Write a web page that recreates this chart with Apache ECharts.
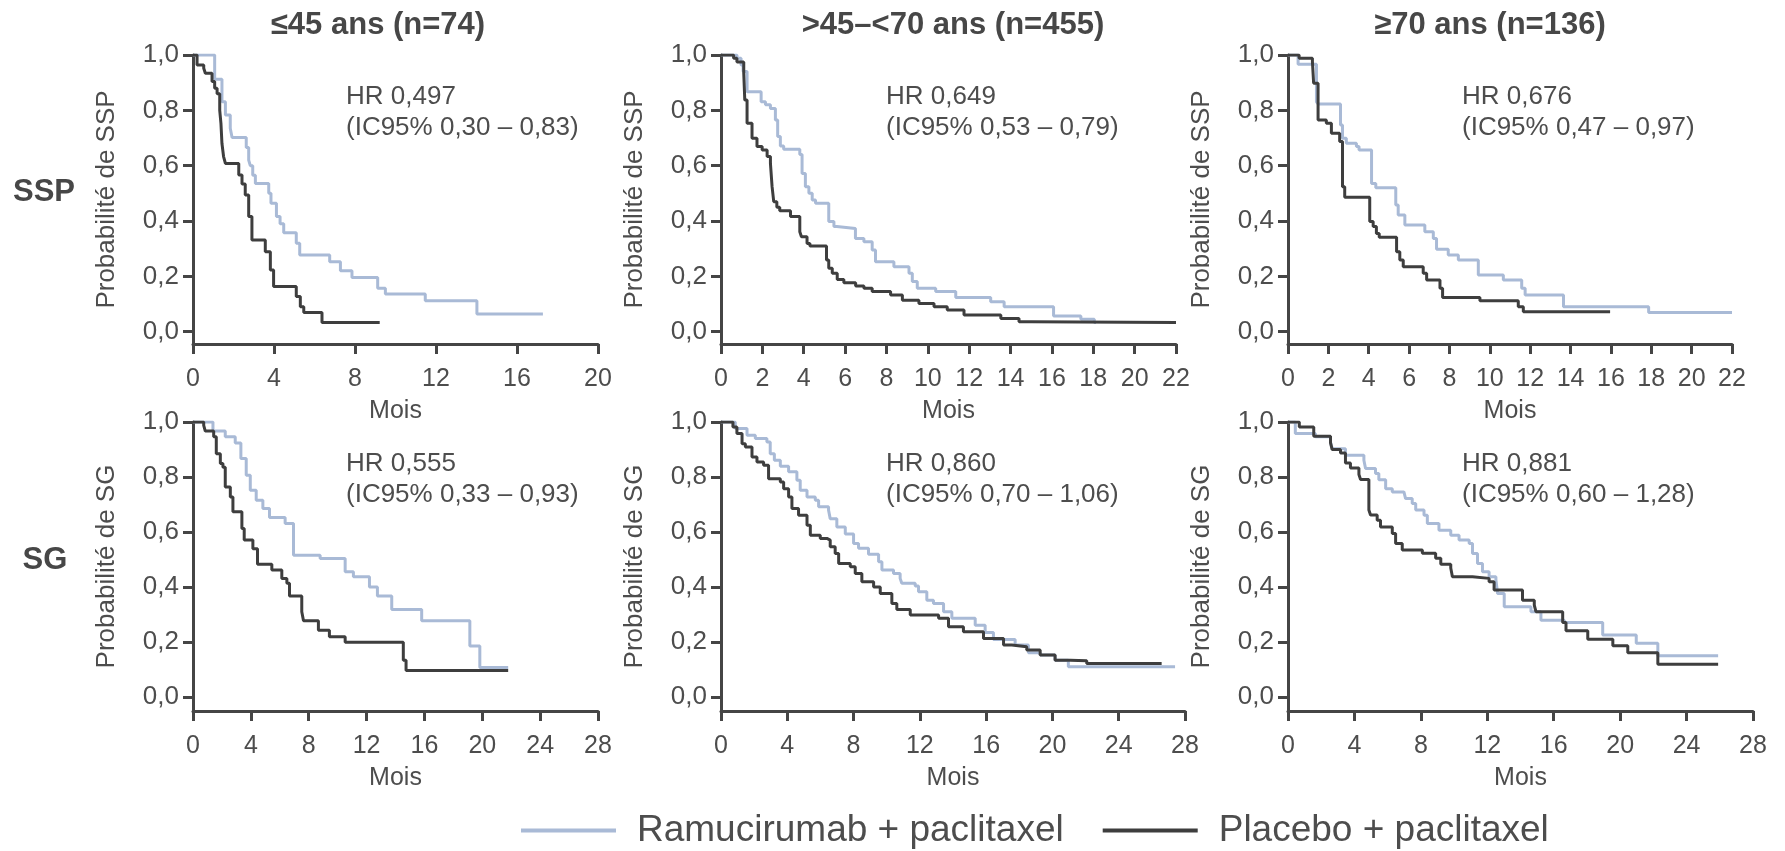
<!DOCTYPE html>
<html>
<head>
<meta charset="utf-8">
<script src="https://cdn.jsdelivr.net/npm/echarts@6/dist/echarts.min.js"></script>
<style>
  html, body { margin: 0; padding: 0; background: #fff; }
  #chart { width: 1785px; height: 851px; }
</style>
</head>
<body>
<div id="chart"></div>
<script>
// Kaplan-Meier curves, [mois, probabilité]
const sspYoungRam = [[0,1],[1.07,0.912],[1.43,0.831],[1.60,0.783],[1.84,0.735],[1.93,0.702],[2.63,0.666],[2.75,0.62],[2.83,0.60],[2.95,0.565],[3.08,0.536],[3.74,0.50],[3.85,0.464],[4.12,0.416],[4.30,0.39],[4.48,0.358],[5.10,0.32],[5.27,0.277],[6.75,0.253],[7.28,0.22],[7.85,0.196],[9.12,0.157],[9.50,0.136],[11.47,0.112],[14.02,0.064],[17.28,0.064]];
const sspYoungPla = [[0,1],[0.2,0.964],[0.53,0.952],[0.61,0.934],[0.94,0.904],[1.07,0.88],[1.19,0.86],[1.32,0.80],[1.38,0.753],[1.43,0.68],[1.51,0.633],[1.60,0.608],[2.26,0.566],[2.42,0.534],[2.58,0.494],[2.75,0.416],[2.91,0.331],[3.57,0.289],[3.82,0.223],[3.98,0.163],[5.10,0.127],[5.30,0.09],[5.47,0.069],[6.37,0.033],[9.22,0.033]];
const sspMidRam = [[0,1],[0.77,0.988],[0.97,0.964],[1.07,0.94],[1.26,0.867],[1.94,0.831],[2.15,0.82],[2.39,0.807],[2.63,0.765],[2.74,0.705],[2.87,0.671],[3.03,0.659],[3.81,0.64],[3.92,0.572],[4.08,0.524],[4.25,0.50],[4.41,0.476],[4.57,0.464],[5.21,0.398],[5.46,0.38],[5.6,0.373],[6.50,0.337],[6.91,0.325],[7.31,0.295],[7.47,0.253],[8.36,0.235],[9.09,0.211],[9.25,0.181],[9.49,0.157],[10.38,0.145],[11.35,0.124],[13.04,0.108],[13.69,0.09],[16.08,0.057],[17.40,0.045],[18.05,0.033],[18.13,0.033]];
const sspMidPla = [[0,1],[0.61,0.988],[0.77,0.975],[1.10,0.934],[1.15,0.837],[1.26,0.753],[1.50,0.699],[1.74,0.669],[1.99,0.657],[2.23,0.633],[2.39,0.608],[2.47,0.524],[2.55,0.47],[2.70,0.45],[2.84,0.437],[3.36,0.416],[3.81,0.361],[3.89,0.343],[4.16,0.319],[4.3,0.31],[5.10,0.259],[5.21,0.229],[5.38,0.211],[5.62,0.189],[5.94,0.177],[6.51,0.165],[6.91,0.157],[7.31,0.145],[8.20,0.133],[8.77,0.114],[9.57,0.102],[10.30,0.09],[10.94,0.078],[11.75,0.06],[13.53,0.048],[14.41,0.036],[15.0,0.033],[22,0.033]];
const sspOldRam = [[0,1],[0.50,0.967],[1.41,0.831],[1.49,0.823],[2.60,0.747],[2.70,0.699],[2.89,0.681],[3.39,0.669],[3.52,0.657],[4.14,0.536],[4.35,0.52],[5.34,0.458],[5.46,0.422],[5.79,0.386],[6.78,0.361],[7.20,0.337],[7.36,0.298],[7.94,0.277],[8.44,0.259],[9.43,0.205],[10.67,0.187],[11.58,0.157],[11.75,0.133],[13.65,0.09],[17.87,0.069],[22,0.069]];
const sspOldPla = [[0,1],[0.55,0.988],[1.21,0.976],[1.27,0.898],[1.49,0.765],[1.90,0.753],[2.15,0.717],[2.56,0.687],[2.70,0.524],[2.81,0.486],[4.05,0.398],[4.22,0.38],[4.38,0.355],[4.52,0.341],[5.38,0.289],[5.54,0.259],[5.71,0.235],[6.70,0.211],[6.87,0.187],[7.53,0.157],[7.66,0.124],[9.51,0.112],[11.41,0.09],[11.66,0.072],[15.96,0.072]];
const sgYoungRam = [[0,1],[1.38,0.967],[2.23,0.946],[2.92,0.924],[3.31,0.867],[3.68,0.807],[3.96,0.752],[4.37,0.716],[4.83,0.686],[5.29,0.653],[6.37,0.631],[6.95,0.516],[8.79,0.504],[10.52,0.456],[11.09,0.438],[12.20,0.401],[12.75,0.368],[13.74,0.319],[15.81,0.278],[19.14,0.186],[19.83,0.108],[21.79,0.108]];
const sgYoungPla = [[0,1],[0.74,0.988],[0.85,0.967],[1.43,0.946],[1.61,0.885],[1.89,0.849],[2.07,0.836],[2.23,0.764],[2.58,0.728],[2.76,0.674],[3.38,0.613],[3.54,0.571],[4.14,0.54],[4.46,0.483],[5.45,0.462],[6.14,0.432],[6.49,0.414],[6.67,0.368],[7.52,0.311],[7.64,0.278],[8.67,0.244],[9.43,0.22],[10.52,0.2],[14.54,0.135],[14.73,0.097],[21.79,0.097]];
const sgMidRam = [[0,1],[0.86,0.976],[1.57,0.952],[2.07,0.94],[2.77,0.927],[2.97,0.885],[3.22,0.861],[3.58,0.839],[4.08,0.819],[4.58,0.788],[4.78,0.752],[5.19,0.728],[5.69,0.716],[5.89,0.692],[6.49,0.68],[6.59,0.649],[6.99,0.619],[7.50,0.593],[8.00,0.559],[8.30,0.541],[8.90,0.52],[9.51,0.492],[9.71,0.462],[10.41,0.45],[10.81,0.432],[10.91,0.414],[11.72,0.404],[11.92,0.383],[12.42,0.353],[12.82,0.341],[13.43,0.311],[13.93,0.287],[15.34,0.262],[15.94,0.235],[16.44,0.21],[17.75,0.19],[18.55,0.162],[19.26,0.154],[20.16,0.135],[20.96,0.111],[27.40,0.111]];
const sgMidPla = [[0,1],[0.72,0.982],[0.96,0.958],[1.27,0.921],[1.47,0.909],[1.87,0.873],[2.17,0.855],[2.57,0.843],[2.87,0.794],[3.58,0.782],[3.78,0.758],[4.08,0.728],[4.28,0.686],[4.68,0.661],[5.19,0.625],[5.39,0.589],[5.99,0.577],[6.39,0.571],[6.59,0.547],[6.89,0.522],[7.10,0.486],[7.80,0.474],[8.10,0.45],[8.50,0.42],[9.21,0.401],[9.61,0.377],[10.31,0.341],[10.61,0.319],[11.42,0.299],[13.13,0.287],[13.73,0.256],[14.63,0.238],[15.84,0.214],[17.05,0.19],[17.55,0.184],[18.45,0.172],[19.26,0.154],[20.16,0.135],[21.07,0.133],[22.07,0.123],[26.59,0.123]];
const sgOldRam = [[0,1],[0.44,0.958],[1.65,0.946],[2.56,0.927],[2.66,0.903],[3.46,0.879],[4.57,0.861],[4.67,0.831],[5.27,0.813],[5.47,0.79],[5.88,0.758],[6.28,0.746],[6.98,0.74],[7.08,0.722],[7.48,0.704],[7.69,0.68],[8.19,0.661],[8.39,0.631],[9.09,0.607],[9.80,0.589],[10.30,0.571],[10.91,0.559],[11.11,0.522],[11.41,0.486],[11.71,0.456],[12.11,0.438],[12.52,0.426],[12.62,0.377],[13.02,0.329],[14.63,0.311],[15.23,0.28],[16.64,0.272],[18.95,0.226],[20.97,0.196],[22.27,0.151],[25.90,0.151]];
const sgOldPla = [[0,1],[0.68,0.982],[1.55,0.948],[2.56,0.924],[2.66,0.9],[3.16,0.887],[3.46,0.851],[3.76,0.833],[4.27,0.809],[4.37,0.791],[4.87,0.68],[4.97,0.662],[5.37,0.643],[5.57,0.619],[6.28,0.595],[6.48,0.559],[6.88,0.535],[8.09,0.523],[8.89,0.505],[9.20,0.483],[9.80,0.47],[9.90,0.438],[11.11,0.432],[12.11,0.42],[12.41,0.39],[14.12,0.353],[14.83,0.335],[14.93,0.311],[16.54,0.272],[16.74,0.242],[18.05,0.211],[19.56,0.187],[20.46,0.162],[22.27,0.12],[25.90,0.12]];

const ageGroups = ['≤45 ans (n=74)', '>45–<70 ans (n=455)', '≥70 ans (n=136)'];
const endpoints = ['SSP', 'SG'];
const hrLabels = [
  'HR 0,497\n(IC95% 0,30 – 0,83)', 'HR 0,649\n(IC95% 0,53 – 0,79)', 'HR 0,676\n(IC95% 0,47 – 0,97)',
  'HR 0,555\n(IC95% 0,33 – 0,93)', 'HR 0,860\n(IC95% 0,70 – 1,06)', 'HR 0,881\n(IC95% 0,60 – 1,28)'
];
const xMax = [20, 22, 22, 28, 28, 28];
const xStep = [4, 2, 2, 4, 4, 4];
const yTicks = [0, 0.2, 0.4, 0.6, 0.8, 1.0];
const armNames = ['Ramucirumab + paclitaxel', 'Placebo + paclitaxel'];
const ramCurves = [sspYoungRam, sspMidRam, sspOldRam, sgYoungRam, sgMidRam, sgOldRam];
const plaCurves = [sspYoungPla, sspMidPla, sspOldPla, sgYoungPla, sgMidPla, sgOldPla];

// layout
const boxes = [
  { left: 193, top: 55, width: 405, height: 289, ymin: -0.0445 },
  { left: 721, top: 55, width: 455, height: 289, ymin: -0.0445 },
  { left: 1288, top: 55, width: 444, height: 289, ymin: -0.0445 },
  { left: 193, top: 422, width: 405, height: 289, ymin: -0.0497 },
  { left: 721, top: 422, width: 464, height: 289, ymin: -0.0497 },
  { left: 1288, top: 422, width: 465, height: 289, ymin: -0.0497 }
];
const FONT = '"Liberation Sans", Arial, sans-serif';
const TXT = '#4d4d4d';
const AX = '#454545';
const LIGHT = '#a9bad6';
const DARK = '#3e3e3e';
const titleX = [378, 953, 1490];
const hrX = [346, 886, 1462];

const grids = [], xAxes = [], yAxes = [], series = [], graphics = [];
boxes.forEach((b, i) => {
  grids.push({ left: b.left, top: b.top, width: b.width, height: b.height });
  const row = Math.floor(i / 3);
  xAxes.push({
    type: 'value', gridIndex: i, min: 0, max: xMax[i], interval: xStep[i],
    name: 'Mois', nameLocation: 'middle', nameGap: 55,
    nameTextStyle: { fontSize: 25, color: TXT, fontFamily: FONT },
    axisLine: { onZero: false, lineStyle: { color: AX, width: 3 } },
    axisTick: { length: 10, lineStyle: { color: AX, width: 3 } },
    axisLabel: { fontSize: 25, color: TXT, fontFamily: FONT, margin: 23 },
    splitLine: { show: false }
  });
  yAxes.push({
    type: 'value', gridIndex: i, min: b.ymin, max: 1,
    name: 'Probabilité de ' + endpoints[row], nameLocation: 'middle', nameGap: 73,
    nameTextStyle: { fontSize: 26, color: TXT, fontFamily: FONT },
    axisLine: { show: true, onZero: false, lineStyle: { color: AX, width: 3 } },
    axisTick: { show: true, length: 10, customValues: yTicks, lineStyle: { color: AX, width: 3 } },
    axisLabel: {
      fontSize: 26, color: TXT, fontFamily: FONT, margin: 14, customValues: yTicks,
      formatter: v => v.toFixed(1).replace('.', ',')
    },
    splitLine: { show: false }
  });
  series.push({
    name: armNames[0], type: 'line', xAxisIndex: i, yAxisIndex: i, step: 'end',
    symbol: 'none', data: ramCurves[i], color: LIGHT, lineStyle: { width: 3, color: LIGHT }, z: 2
  });
  series.push({
    name: armNames[1], type: 'line', xAxisIndex: i, yAxisIndex: i, step: 'end',
    symbol: 'none', data: plaCurves[i], color: DARK, lineStyle: { width: 3, color: DARK }, z: 3
  });
  graphics.push({
    type: 'text', x: hrX[i % 3], y: row === 0 ? 81 : 448,
    style: { text: hrLabels[i], font: '26px ' + FONT, fill: TXT, lineHeight: 31, verticalAlign: 'top' }
  });
});

ageGroups.forEach((t, k) => {
  graphics.push({
    type: 'text', x: titleX[k], y: 25,
    style: { text: t, font: 'bold 31px ' + FONT, fill: '#474747', align: 'center', verticalAlign: 'middle' }
  });
});
endpoints.forEach((t, k) => {
  graphics.push({
    type: 'text', x: k === 0 ? 44 : 45, y: k === 0 ? 192 : 560,
    style: { text: t, font: 'bold 31px ' + FONT, fill: '#474747', align: 'center', verticalAlign: 'middle' }
  });
});

const chart = echarts.init(document.getElementById('chart'));
chart.setOption({
  animation: false,
  backgroundColor: '#fff',
  grid: grids,
  xAxis: xAxes,
  yAxis: yAxes,
  series: series,
  graphic: graphics,
  legend: {
    data: armNames, left: 521, top: 812, padding: 0,
    icon: 'rect', itemWidth: 95, itemHeight: 4, itemGap: 39,
    textStyle: { fontSize: 37, color: TXT, fontFamily: FONT, padding: [0, 0, 0, 16] }
  }
});
</script>
</body>
</html>
